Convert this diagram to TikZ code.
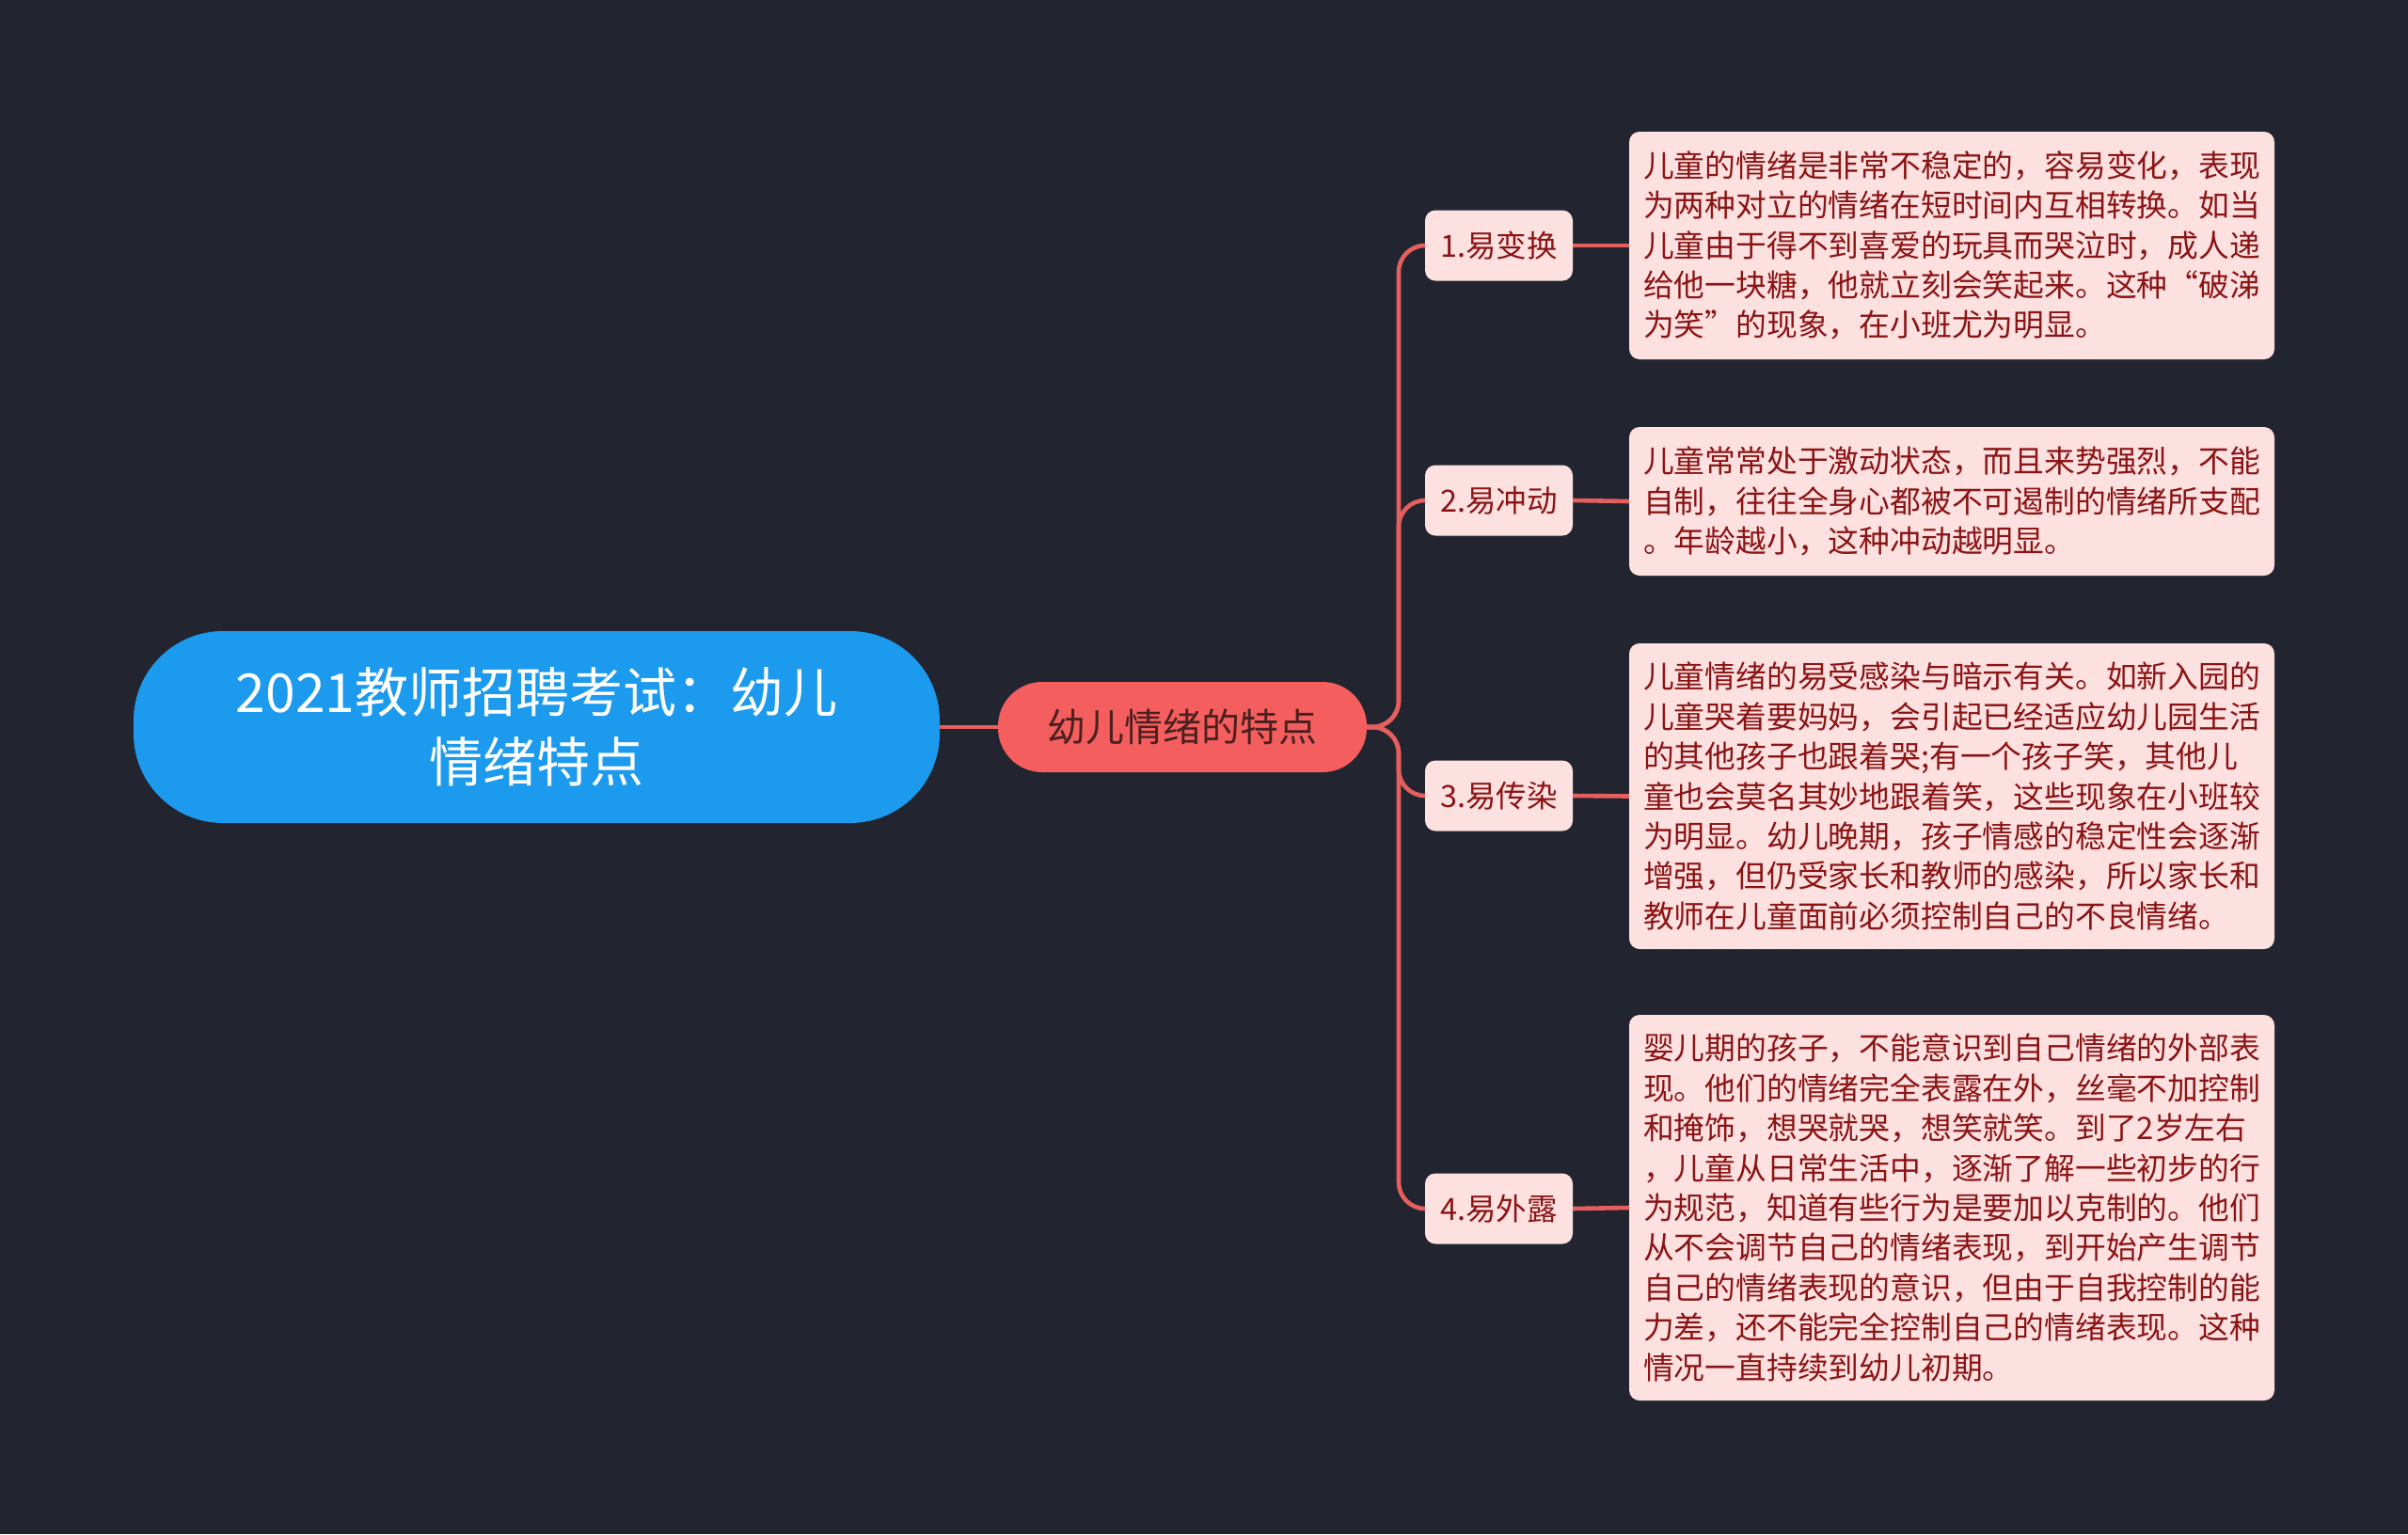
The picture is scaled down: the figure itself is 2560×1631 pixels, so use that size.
\documentclass[tikz,border=0pt]{standalone}
\usepackage{fontspec}
\setmainfont{Noto Sans CJK SC}
\definecolor{bgc}{HTML}{22252F}
\definecolor{rootc}{HTML}{1B9AEE}
\definecolor{midc}{HTML}{F45E5E}
\definecolor{midtext}{HTML}{4A2020}
\definecolor{linkc}{HTML}{E55F5E}
\definecolor{pinkc}{HTML}{FDE1E1}
\definecolor{redtext}{HTML}{8B1414}
\begin{document}
\begin{tikzpicture}[x=1pt,y=-1pt,
  conn/.style={draw=linkc,line width=4.6pt},
  rootbox/.style={fill=rootc,rounded corners=95pt,minimum width=857pt,minimum height=204pt,
    text=white,align=center,font=\fontsize{57}{74}\selectfont,inner sep=0pt},
  midbox/.style={fill=midc,rounded corners=47pt,minimum width=392pt,minimum height=96pt,
    text=midtext,font=\fontsize{41}{50}\selectfont,inner sep=0pt},
  branchbox/.style={fill=pinkc,rounded corners=11pt,minimum width=157pt,minimum height=75pt,
    text=redtext,font=\fontsize{32.5}{40}\selectfont,inner sep=0pt},
  textbox/.style={fill=pinkc,rounded corners=11pt,minimum width=686pt,text width=656pt,
    text=redtext,align=left,font=\fontsize{32.8}{42.4}\selectfont,inner xsep=15pt,inner ysep=0pt}
]
\fill[bgc] (0,0) rectangle (2560,1631);
\useasboundingbox (0,0) rectangle (2560,1631);

\node[rootbox] (root) at (570.5,773) {2021教师招聘考试：幼儿\\情绪特点};
\node[midbox] (mid) at (1257,773) {幼儿情绪的特点};

\node[branchbox] (b1) at (1593.5,261) {1.易变换};
\node[branchbox] (b2) at (1593.5,532) {2.易冲动};
\node[branchbox] (b3) at (1593.5,846) {3.易传染};
\node[branchbox] (b4) at (1593.5,1285) {4.易外露};

\node[textbox,minimum height=242pt] (t1) at (2075,261) {儿童的情绪是非常不稳定的，容易变化，表现\\为两种对立的情绪在短时间内互相转换。如当\\儿童由于得不到喜爱的玩具而哭泣时，成人递\\给他一块糖，他就立刻会笑起来。这种“破涕\\为笑”的现象，在小班尤为明显。};
\node[textbox,minimum height=158pt] (t2) at (2075,533) {儿童常常处于激动状态，而且来势强烈，不能\\自制，往往全身心都被不可遏制的情绪所支配\\。年龄越小，这种冲动越明显。};
\node[textbox,minimum height=325pt] (t3) at (2075,846.5) {儿童情绪的易受感染与暗示有关。如新入园的\\儿童哭着要妈妈，会引起已经适应幼儿园生活\\的其他孩子也跟着哭;有一个孩子笑，其他儿\\童也会莫名其妙地跟着笑，这些现象在小班较\\为明显。幼儿晚期，孩子情感的稳定性会逐渐\\增强，但仍受家长和教师的感染，所以家长和\\教师在儿童面前必须控制自己的不良情绪。};
\node[textbox,minimum height=410pt] (t4) at (2075,1284) {婴儿期的孩子，不能意识到自己情绪的外部表\\现。他们的情绪完全表露在外，丝毫不加控制\\和掩饰，想哭就哭，想笑就笑。到了2岁左右\\，儿童从日常生活中，逐渐了解一些初步的行\\为规范，知道有些行为是要加以克制的。他们\\从不会调节自己的情绪表现，到开始产生调节\\自己的情绪表现的意识，但由于自我控制的能\\力差，还不能完全控制自己的情绪表现。这种\\情况一直持续到幼儿初期。};

\draw[conn] (root.east) -- (mid.west);
\draw[conn,rounded corners=28pt] (mid.east) -- (1487,773) -- (1487,261) -- (b1.west);
\draw[conn,rounded corners=28pt] (mid.east) -- (1487,773) -- (1487,532) -- (b2.west);
\draw[conn,rounded corners=28pt] (mid.east) -- (1487,773) -- (1487,846) -- (b3.west);
\draw[conn,rounded corners=28pt] (mid.east) -- (1487,773) -- (1487,1285) -- (b4.west);

\draw[conn] (b1.east) -- (t1.west);
\draw[conn] (b2.east) -- (t2.west);
\draw[conn] (b3.east) -- (t3.west);
\draw[conn] (b4.east) -- (t4.west);
\end{tikzpicture}
\end{document}
